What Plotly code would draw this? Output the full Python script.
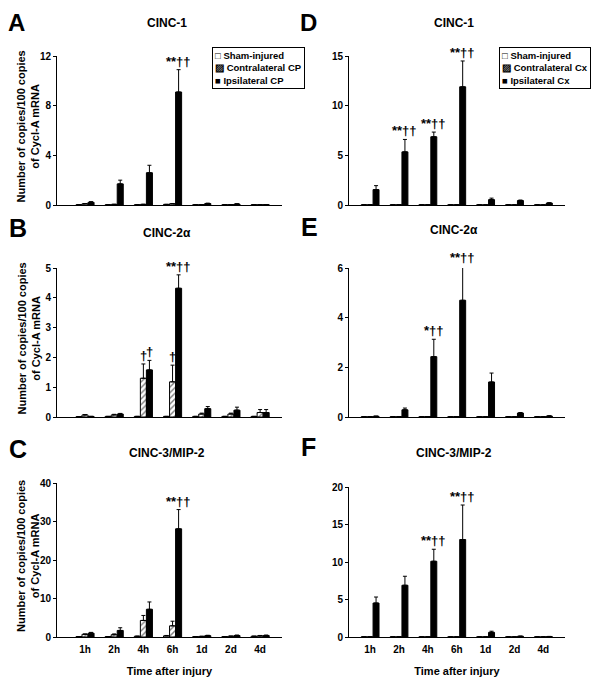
import plotly.graph_objects as go

times = ["1h", "2h", "4h", "6h", "1d", "2d", "4d"]
names_cp = ["Sham-injured", "Contralateral CP", "Ipsilateral CP"]
names_cx = ["Sham-injured", "Contralateral Cx", "Ipsilateral Cx"]

# Panel A: CINC-1, CP
a_sham = [0.02, 0.02, 0.02, 0.05, 0.02, 0.02, 0.02]
a_sham_err = [0, 0, 0, 0, 0, 0, 0]
a_contra = [0.1, 0.05, 0.05, 0.1, 0.03, 0.03, 0.02]
a_contra_err = [0.02, 0.01, 0.01, 0.02, 0.01, 0.01, 0.0]
a_ipsi = [0.22, 1.7, 2.6, 9.1, 0.12, 0.08, 0.03]
a_ipsi_err = [0.05, 0.3, 0.6, 1.8, 0.03, 0.02, 0.01]

# Panel D: CINC-1, Cx
d_sham = [0.02, 0.02, 0.02, 0.02, 0.02, 0.02, 0.02]
d_sham_err = [0, 0, 0, 0, 0, 0, 0]
d_contra = [0.02, 0.02, 0.02, 0.02, 0.01, 0.01, 0.01]
d_contra_err = [0, 0, 0, 0, 0, 0, 0]
d_ipsi = [1.55, 5.35, 6.87, 11.9, 0.54, 0.45, 0.2]
d_ipsi_err = [0.4, 1.25, 0.47, 2.6, 0.15, 0.05, 0.03]

# Panel B: CINC-2a, CP
b_sham = [0.01, 0.02, 0.02, 0.02, 0.02, 0.02, 0.02]
b_sham_err = [0, 0, 0, 0, 0, 0, 0]
b_contra = [0.07, 0.07, 1.3, 1.18, 0.1, 0.1, 0.15]
b_contra_err = [0.01, 0.02, 0.48, 0.56, 0.03, 0.03, 0.1]
b_ipsi = [0.02, 0.1, 1.58, 4.32, 0.28, 0.23, 0.15]
b_ipsi_err = [0.0, 0.02, 0.32, 0.45, 0.07, 0.1, 0.1]

# Panel E: CINC-2a, Cx
e_sham = [0.01, 0.01, 0.01, 0.01, 0.01, 0.01, 0.01]
e_sham_err = [0, 0, 0, 0, 0, 0, 0]
e_contra = [0.01, 0.01, 0.02, 0.02, 0.01, 0.01, 0.01]
e_contra_err = [0, 0, 0, 0, 0, 0, 0]
e_ipsi = [0.03, 0.29, 2.43, 4.7, 1.41, 0.16, 0.04]
e_ipsi_err = [0.005, 0.07, 0.7, 1.37, 0.36, 0.02, 0.01]

# Panel C: CINC-3/MIP-2, CP
c_sham = [0.1, 0.1, 0.2, 0.3, 0.1, 0.1, 0.2]
c_sham_err = [0, 0, 0, 0.1, 0, 0, 0]
c_contra = [0.7, 0.6, 4.3, 2.9, 0.15, 0.2, 0.3]
c_contra_err = [0.1, 0.2, 1.3, 1.2, 0.05, 0.05, 0.1]
c_ipsi = [1.0, 1.7, 7.2, 28.1, 0.35, 0.4, 0.4]
c_ipsi_err = [0.2, 0.7, 1.9, 5.0, 0.1, 0.1, 0.1]

# Panel F: CINC-3/MIP-2, Cx
f_sham = [0.02, 0.02, 0.02, 0.02, 0.02, 0.02, 0.02]
f_sham_err = [0, 0, 0, 0, 0, 0, 0]
f_contra = [0.02, 0.02, 0.02, 0.02, 0.02, 0.02, 0.02]
f_contra_err = [0, 0, 0, 0, 0, 0, 0]
f_ipsi = [4.53, 6.9, 10.1, 13.0, 0.62, 0.1, 0.06]
f_ipsi_err = [0.8, 1.2, 1.6, 4.6, 0.15, 0.02, 0.02]

# significance marks: (category index, series index 0=sham 1=contra 2=ipsi, text)
a_marks = [(3, 2, "**††")]
d_marks = [(1, 2, "**††"), (2, 2, "**††"), (3, 2, "**††")]
b_marks = [(2, 1, "†"), (2, 2, "†"), (3, 1, "†"), (3, 2, "**††")]
e_marks = [(2, 2, "*††"), (3, 2, "**††")]
c_marks = [(3, 2, "**††")]
f_marks = [(2, 2, "**††"), (3, 2, "**††")]

# page body has an 8px margin: the figure is 584x669 and sits at (8, 8)
OFF = 8
W, H = 600 - 2 * OFF, 685 - 2 * OFF
FONT = "Liberation Sans, Arial, sans-serif"
BARGAP = 0.38
BW = (1 - BARGAP) / 3


def fx(px):
    return (px - OFF) / W


def fy(py):
    return 1 - (py - OFF) / H


panels = [
    # letter, title, names, data, marks, xpx, ypx(top,bottom), ymax, dtick, xlabels, ytitle, xrange,
    # (title y, letter y, letter x), legend x
    ("A", "CINC-1", names_cp, (a_sham, a_sham_err, a_contra, a_contra_err, a_ipsi, a_ipsi_err), a_marks,
     (57, 282), (56, 205), 12, 4, False, True, (-0.96, 6.75), (23, None, 7), 212),
    ("D", "CINC-1", names_cx, (d_sham, d_sham_err, d_contra, d_contra_err, d_ipsi, d_ipsi_err), d_marks,
     (349, 565), (56, 205), 15, 5, False, False, (-0.73, 6.75), (23, None, 299), 499),
    ("B", "CINC-2α", names_cp, (b_sham, b_sham_err, b_contra, b_contra_err, b_ipsi, b_ipsi_err), b_marks,
     (57, 282), (268, 417), 5, 1, False, True, (-0.96, 6.75), (233, 228, 7), None),
    ("E", "CINC-2α", names_cx, (e_sham, e_sham_err, e_contra, e_contra_err, e_ipsi, e_ipsi_err), e_marks,
     (349, 565), (268, 417), 6, 2, False, False, (-0.73, 6.75), (230, 227, 299), None),
    ("C", "CINC-3/MIP-2", names_cp, (c_sham, c_sham_err, c_contra, c_contra_err, c_ipsi, c_ipsi_err), c_marks,
     (57, 282), (483, 637), 40, 10, True, True, (-0.96, 6.75), (453, 449, 7), None),
    ("F", "CINC-3/MIP-2", names_cx, (f_sham, f_sham_err, f_contra, f_contra_err, f_ipsi, f_ipsi_err), f_marks,
     (349, 565), (487, 637), 20, 5, True, False, (-0.73, 6.75), (453, 447, 299), None),
]

fig = go.Figure()
annotations = []
layout = dict(
    width=W, height=H, margin=dict(l=0, r=0, t=0, b=0),
    paper_bgcolor="white", plot_bgcolor="white",
    barmode="group", bargap=BARGAP, bargroupgap=0, showlegend=False,
    font=dict(family=FONT, color="black"),
)

for p, (letter, title, names, data, marks, xpx, ypx, ymax, dtick, showx, showyt, xr, tl, legx) in enumerate(panels):
    n = "" if p == 0 else str(p + 1)
    xa, ya = "x" + n, "y" + n
    sham, sham_e, con, con_e, ips, ips_e = data
    styles = [
        dict(color="white", line=dict(color="black", width=1)),
        dict(color="white", line=dict(color="black", width=1),
             pattern=dict(shape="/", fgcolor="black", bgcolor="white", size=4, solidity=0.35)),
        dict(color="black", line=dict(color="black", width=1)),
    ]
    vals = [(sham, sham_e), (con, con_e), (ips, ips_e)]
    for k in range(3):
        v, e = vals[k]
        fig.add_trace(go.Bar(
            x=list(range(len(times))), y=v, name=names[k], marker=styles[k],
            error_y=dict(type="data", symmetric=False, array=e, arrayminus=[0] * len(e),
                         color="black", thickness=1, width=2),
            xaxis=xa, yaxis=ya, offsetgroup=str(k),
        ))
    layout["xaxis" + n] = dict(
        domain=[fx(xpx[0]), fx(xpx[1])], anchor=ya, range=list(xr), showline=True,
        linecolor="black", linewidth=1, ticks="", showgrid=False, zeroline=False,
        tickmode="array", tickvals=list(range(len(times))), ticktext=times, showticklabels=showx,
        tickfont=dict(size=10, weight="bold", family=FONT), ticklabelstandoff=3,
        title=dict(text="Time after injury" if showx else "",
                   font=dict(size=11, weight="bold", family=FONT), standoff=18),
        automargin=False, fixedrange=True,
    )
    layout["yaxis" + n] = dict(
        domain=[fy(ypx[1]), fy(ypx[0])], anchor=xa, range=[0, ymax], dtick=dtick, tick0=0,
        showline=True, linecolor="black", linewidth=1, ticks="outside", ticklen=3,
        tickcolor="black", showgrid=False, zeroline=False,
        tickfont=dict(size=10, weight="bold", family=FONT),
        automargin=False, fixedrange=True,
    )
    if showyt:
        annotations.append(dict(
            text="Number of copies/100 copies<br>of Cycl-A mRNA", textangle=-90,
            x=fx(28), y=fy((ypx[0] + ypx[1]) / 2 - 4), xref="paper", yref="paper",
            xanchor="center", yanchor="middle", showarrow=False,
            font=dict(size=11, weight="bold", family=FONT)))
    # panel letter and title
    if tl[1] is None:
        annotations.append(dict(text=letter, x=fx(tl[2]), y=1, xref="paper", yref="paper",
                                xanchor="left", yanchor="top", showarrow=False, borderpad=0,
                                font=dict(size=24, weight="bold", family=FONT)))
    else:
        annotations.append(dict(text=letter, x=fx(tl[2]), y=fy(tl[1]), xref="paper", yref="paper",
                                xanchor="left", yanchor="middle", showarrow=False,
                                font=dict(size=25, weight="bold", family=FONT)))
    annotations.append(dict(text=title, x=fx((xpx[0] + xpx[1]) / 2 - 3), y=fy(tl[0]),
                            xref="paper", yref="paper", xanchor="center", yanchor="middle",
                            showarrow=False, font=dict(size=12, weight="bold", family=FONT)))
    # significance marks
    for (i, k, txt) in marks:
        v, e = vals[k]
        annotations.append(dict(text=txt, x=i + (k - 1) * BW, y=(v[i] + e[i]) / ymax,
                                xref=xa, yref=ya + " domain",
                                xanchor="center", yanchor="bottom", showarrow=False, yshift=-1,
                                font=dict(size=13, family=FONT, weight="bold", color="black")))
    if legx:
        annotations.append(dict(
            text="□ " + names[0] + "<br>▨ " + names[1] + "<br>■ " + names[2],
            x=fx(legx), y=fy(47), xref="paper", yref="paper",
            xanchor="left", yanchor="top", align="left", showarrow=False,
            bordercolor="black", borderwidth=1, borderpad=2, bgcolor="white",
            font=dict(size=9.5, weight="bold", family=FONT)))

layout["annotations"] = annotations
fig.update_layout(**layout)
fig.write_html("out.html")
